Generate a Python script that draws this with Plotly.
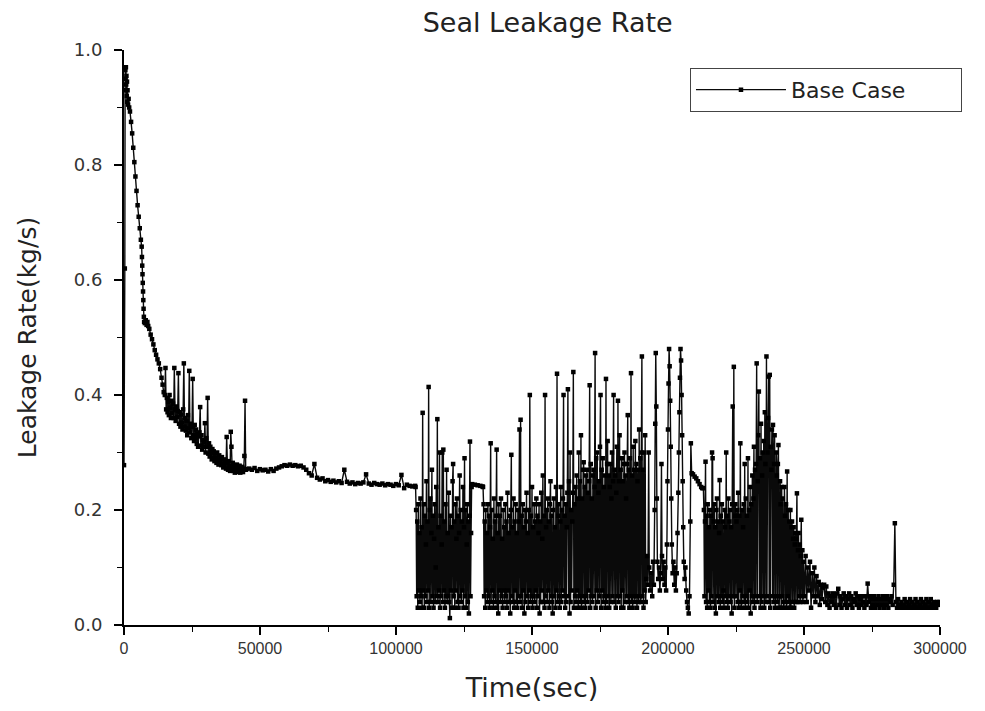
import plotly.graph_objects as go

# ---- data ----
# early part: explicit (time, value) pairs
early_t = [0, 300, 400, 500, 600, 700, 800, 900, 1000, 1100, 1200, 1300, 1500, 1700, 1900,
           2200, 2600, 3000, 3400, 3800, 4200, 4600, 5000, 5400, 5800, 6200, 6500, 6600,
           6700, 6800, 6900, 7000, 7100, 7200, 7300, 7400, 7700, 8000, 8300, 8600, 8900,
           9300, 9800, 10300, 10800, 11300, 11800, 12300, 12800, 13300, 13800, 14200, 14600]
early_v = [0.278, 0.62, 0.93, 0.965, 0.95, 0.97, 0.94, 0.955, 0.92, 0.945, 0.91, 0.93, 0.905,
           0.915, 0.90, 0.893, 0.875, 0.855, 0.83, 0.805, 0.78, 0.755, 0.73, 0.71, 0.69, 0.67,
           0.658, 0.64, 0.625, 0.61, 0.595, 0.58, 0.565, 0.55, 0.536, 0.527, 0.525, 0.53,
           0.522, 0.527, 0.52, 0.515, 0.505, 0.497, 0.488, 0.478, 0.47, 0.462, 0.455, 0.445,
           0.43, 0.418, 0.405]

# descending band, sampled every 250 s from 15000 s
band_start, band_step = 15000, 250
band_v = [0.40, 0.447, 0.375, 0.395, 0.37, 0.388, 0.365, 0.40, 0.378, 0.36,
          0.39, 0.368, 0.385, 0.36, 0.447, 0.375, 0.355, 0.38, 0.362, 0.372,
          0.438, 0.35, 0.37, 0.345, 0.366, 0.352, 0.34, 0.375, 0.455, 0.345,
          0.36, 0.338, 0.355, 0.33, 0.365, 0.342, 0.442, 0.335, 0.35, 0.325,
          0.345, 0.428, 0.33, 0.32, 0.348, 0.325, 0.34, 0.315, 0.333, 0.31,
          0.328, 0.335, 0.379, 0.312, 0.33, 0.305, 0.322, 0.31, 0.318, 0.351,
          0.30, 0.325, 0.31, 0.395, 0.298, 0.316, 0.293, 0.31, 0.30, 0.288,
          0.306, 0.29, 0.302, 0.285, 0.298, 0.29, 0.282, 0.30, 0.287, 0.279,
          0.295, 0.283, 0.29, 0.278, 0.292, 0.28, 0.274, 0.288, 0.277, 0.285,
          0.272, 0.327, 0.282, 0.27, 0.285, 0.276, 0.268, 0.336, 0.31, 0.275,
          0.282, 0.268, 0.278, 0.265, 0.276, 0.27, 0.279, 0.266, 0.274, 0.269,
          0.277, 0.265, 0.273, 0.268, 0.275, 0.266, 0.272, 0.294, 0.39, 0.27,
          0.271]

# plateau, sampled every 1000 s from 46000 s
flat_start, flat_step = 46000, 1000
flat_v = [0.272, 0.27, 0.273, 0.268, 0.271, 0.269, 0.27, 0.267, 0.271, 0.268,
          0.272, 0.274, 0.276, 0.278, 0.277, 0.279, 0.277, 0.278, 0.276, 0.277,
          0.274, 0.27, 0.264, 0.26, 0.28, 0.256, 0.253, 0.255, 0.25, 0.252,
          0.249, 0.251, 0.248, 0.25, 0.247, 0.27, 0.249, 0.246, 0.248, 0.245,
          0.247, 0.246, 0.248, 0.262, 0.246, 0.244, 0.247, 0.245, 0.244, 0.246,
          0.243, 0.245, 0.244, 0.242, 0.245, 0.243, 0.261, 0.238, 0.244, 0.242, 0.241]

# first oscillating zone, every 200 s from 107000 s
osc1_start, osc1_step = 107000, 200
osc1_v = [0.242, 0.24, 0.20, 0.05, 0.18, 0.03, 0.21, 0.06, 0.16, 0.04,
          0.22, 0.05, 0.17, 0.03, 0.369, 0.06, 0.21, 0.03, 0.19, 0.05,
          0.14, 0.25, 0.04, 0.18, 0.06, 0.414, 0.03, 0.20, 0.22, 0.04,
          0.16, 0.27, 0.05, 0.19, 0.03, 0.15, 0.21, 0.04, 0.10, 0.24,
          0.05, 0.358, 0.04, 0.17, 0.06, 0.30, 0.03, 0.19, 0.05, 0.14,
          0.30, 0.04, 0.305, 0.06, 0.18, 0.03, 0.21, 0.05, 0.27, 0.04,
          0.16, 0.05, 0.23, 0.04, 0.012, 0.19, 0.06, 0.17, 0.03, 0.25,
          0.28, 0.05, 0.18, 0.03, 0.21, 0.06, 0.15, 0.22, 0.04, 0.19,
          0.03, 0.16, 0.26, 0.05, 0.20, 0.04, 0.18, 0.06, 0.24, 0.03,
          0.17, 0.29, 0.05, 0.20, 0.03, 0.14, 0.21, 0.04, 0.18, 0.02,
          0.19, 0.319, 0.05, 0.16, 0.24, 0.245]

# short steady piece
gap1_t = [129000, 130000, 131000, 131800]
gap1_v = [0.244, 0.243, 0.242, 0.241]

# second oscillating zone, every 200 s from 132000 s
osc2_start, osc2_step = 132000, 200
osc2_v = [0.24, 0.21, 0.05, 0.18, 0.03, 0.20, 0.06, 0.16, 0.04, 0.21,
          0.05, 0.19, 0.03, 0.17, 0.316, 0.04, 0.20, 0.06, 0.15, 0.03,
          0.22, 0.05, 0.18, 0.04, 0.19, 0.305, 0.03, 0.16, 0.02, 0.21,
          0.06, 0.19, 0.04, 0.22, 0.05, 0.15, 0.03, 0.20, 0.06, 0.17,
          0.04, 0.21, 0.05, 0.18, 0.03, 0.23, 0.06, 0.16, 0.04, 0.19,
          0.02, 0.20, 0.296, 0.05, 0.17, 0.04, 0.22, 0.03, 0.18, 0.06,
          0.21, 0.04, 0.16, 0.03, 0.20, 0.05, 0.18, 0.34, 0.04, 0.357,
          0.05, 0.19, 0.03, 0.21, 0.06, 0.17, 0.02, 0.20, 0.04, 0.18,
          0.23, 0.05, 0.16, 0.03, 0.20, 0.06, 0.40, 0.04, 0.19, 0.05,
          0.24, 0.03, 0.17, 0.05, 0.21, 0.04, 0.18, 0.06, 0.22, 0.03,
          0.19, 0.05, 0.16, 0.21, 0.02, 0.18, 0.04, 0.23, 0.06, 0.15,
          0.26, 0.04, 0.19, 0.03, 0.40, 0.05, 0.17, 0.20, 0.04, 0.22,
          0.06, 0.18, 0.03, 0.21, 0.25, 0.05, 0.19, 0.04, 0.02, 0.20,
          0.22, 0.05, 0.17, 0.03, 0.24, 0.06, 0.437, 0.04, 0.19, 0.21,
          0.05, 0.03, 0.18, 0.24, 0.04, 0.20, 0.06, 0.22, 0.40, 0.05,
          0.19, 0.03, 0.21, 0.04, 0.17, 0.23, 0.41, 0.05, 0.25, 0.02,
          0.30, 0.04, 0.20, 0.06, 0.18, 0.23, 0.44, 0.03, 0.21, 0.05,
          0.24, 0.04, 0.26, 0.06, 0.22, 0.03, 0.30, 0.05, 0.25, 0.04,
          0.33, 0.03, 0.22, 0.05, 0.27, 0.283, 0.04, 0.24, 0.03, 0.26,
          0.05, 0.27, 0.04, 0.23, 0.06, 0.25, 0.417, 0.03, 0.28, 0.05,
          0.22, 0.04, 0.26, 0.27, 0.05, 0.24, 0.473, 0.03, 0.29, 0.06,
          0.30, 0.04, 0.23, 0.25, 0.05, 0.31, 0.40, 0.03, 0.27, 0.06,
          0.29, 0.04, 0.24, 0.05, 0.26, 0.03, 0.428, 0.04, 0.28, 0.32,
          0.05, 0.26, 0.03, 0.24, 0.28, 0.04, 0.22, 0.30, 0.05, 0.25,
          0.40, 0.04, 0.27, 0.26, 0.03, 0.23, 0.31, 0.05, 0.39, 0.04,
          0.25, 0.33, 0.05, 0.27, 0.03, 0.29, 0.06, 0.25, 0.03, 0.28,
          0.30, 0.04, 0.26, 0.22, 0.05, 0.28, 0.365, 0.04, 0.27, 0.03,
          0.29, 0.05, 0.438, 0.04, 0.26, 0.03, 0.31, 0.05, 0.27, 0.04,
          0.32, 0.05, 0.28, 0.03, 0.25, 0.27, 0.04, 0.34, 0.05, 0.29,
          0.04, 0.30, 0.467, 0.05, 0.27, 0.03, 0.30, 0.06, 0.33, 0.04]

# sparse zone with tall excursions (irregular times)
sparse_t = [192000, 192300, 192600, 192900, 193100, 193400, 193800, 194200, 194500, 194800,
            195100, 195300, 195500, 195700, 195900, 196100, 196400, 196700, 197000, 197300,
            197600, 197800, 198100, 198400, 198700, 199000, 199300, 199600, 199800, 200000,
            200200, 200400, 200600, 200800, 201000, 201200, 201400, 201700, 202000, 202300,
            202600, 202900, 203200, 203500, 203800, 204000, 204200, 204400, 204600, 204800,
            205000, 205200, 205400, 205600, 205800, 206100, 206400, 206700, 207000, 207300,
            207600, 207900, 208200, 208400]
sparse_v = [0.08, 0.12, 0.07, 0.30, 0.10, 0.06, 0.09, 0.05, 0.11, 0.07,
            0.20, 0.35, 0.473, 0.38, 0.22, 0.11, 0.08, 0.10, 0.06, 0.09,
            0.28, 0.12, 0.08, 0.11, 0.07, 0.10, 0.06, 0.14, 0.25, 0.34,
            0.42, 0.48, 0.45, 0.39, 0.31, 0.22, 0.14, 0.09, 0.11, 0.07,
            0.10, 0.06, 0.09, 0.16, 0.23, 0.30, 0.37, 0.43, 0.48, 0.46,
            0.40, 0.33, 0.25, 0.17, 0.11, 0.08, 0.10, 0.06, 0.04, 0.03,
            0.02, 0.05, 0.18, 0.316]

# short steady piece
gap2_t = [208700, 209200, 209800, 210400, 211000, 211600, 212200, 212600]
gap2_v = [0.264, 0.262, 0.258, 0.255, 0.25, 0.245, 0.24, 0.238]

# third oscillating zone, every 200 s from 213000 s
osc3_start, osc3_step = 213000, 200
osc3_v = [0.238, 0.20, 0.05, 0.18, 0.284, 0.04, 0.19, 0.03, 0.21, 0.06,
          0.17, 0.04, 0.20, 0.03, 0.19, 0.05, 0.30, 0.29, 0.04, 0.18,
          0.21, 0.03, 0.17, 0.02, 0.20, 0.22, 0.05, 0.18, 0.04, 0.16,
          0.252, 0.03, 0.19, 0.05, 0.21, 0.04, 0.18, 0.06, 0.03, 0.20,
          0.17, 0.05, 0.30, 0.04, 0.19, 0.03, 0.22, 0.05, 0.18, 0.20,
          0.04, 0.17, 0.02, 0.21, 0.38, 0.05, 0.449, 0.03, 0.19, 0.21,
          0.05, 0.18, 0.20, 0.04, 0.23, 0.03, 0.19, 0.06, 0.316, 0.04,
          0.03, 0.20, 0.05, 0.17, 0.21, 0.04, 0.28, 0.03, 0.22, 0.05,
          0.19, 0.04, 0.29, 0.03, 0.20, 0.06, 0.24, 0.02, 0.21, 0.05,
          0.26, 0.04, 0.22, 0.31, 0.03, 0.27, 0.05, 0.28, 0.455, 0.04,
          0.25, 0.33, 0.406, 0.05, 0.29, 0.03, 0.35, 0.04, 0.26, 0.30,
          0.05, 0.32, 0.03, 0.37, 0.28, 0.04, 0.467, 0.05, 0.30, 0.36,
          0.432, 0.04, 0.435, 0.03, 0.31, 0.27, 0.34, 0.05, 0.348, 0.04,
          0.28, 0.33, 0.03, 0.05, 0.30, 0.26, 0.04, 0.28, 0.313, 0.03,
          0.05, 0.25, 0.21, 0.03, 0.24, 0.05, 0.22, 0.04, 0.03, 0.24,
          0.19, 0.04, 0.21, 0.03, 0.267, 0.05, 0.20, 0.04, 0.18, 0.03,
          0.20, 0.03, 0.17, 0.18, 0.04, 0.15, 0.17, 0.03, 0.14, 0.16,
          0.04, 0.15, 0.229, 0.04, 0.13, 0.16, 0.05, 0.14, 0.04, 0.12,
          0.183, 0.05, 0.13, 0.04, 0.11]

# tail, every 400 s from 250200 s
tail_start, tail_step = 250200, 400
tail_v = [0.05, 0.12, 0.04, 0.10, 0.06, 0.11, 0.03, 0.09, 0.05, 0.10,
          0.04, 0.085, 0.05, 0.075, 0.035, 0.07, 0.045, 0.065, 0.07, 0.04,
          0.067, 0.035, 0.055, 0.03, 0.05, 0.04, 0.055, 0.035, 0.05, 0.03,
          0.055, 0.063, 0.035, 0.05, 0.03, 0.045, 0.055, 0.035, 0.05, 0.03,
          0.045, 0.055, 0.035, 0.05, 0.03, 0.045, 0.04, 0.055, 0.035, 0.05,
          0.03, 0.045, 0.035, 0.05, 0.04, 0.03, 0.05, 0.035, 0.072, 0.04,
          0.05, 0.03, 0.045, 0.035, 0.05, 0.03, 0.045, 0.035, 0.05, 0.03,
          0.045, 0.035, 0.05, 0.03, 0.045, 0.035, 0.05, 0.03, 0.045, 0.04,
          0.05, 0.035, 0.07, 0.177, 0.04, 0.03, 0.045, 0.035, 0.03, 0.04,
          0.03, 0.035, 0.045, 0.03, 0.04, 0.03, 0.035, 0.045, 0.03, 0.04,
          0.03, 0.035, 0.045, 0.03, 0.04, 0.03, 0.035, 0.045, 0.03, 0.04,
          0.03, 0.035, 0.045, 0.03, 0.04, 0.03, 0.045, 0.035, 0.03, 0.04,
          0.035, 0.03, 0.04, 0.035, 0.04]

x_ticks = [0, 50000, 100000, 150000, 200000, 250000, 300000]
y_ticks = [0.0, 0.2, 0.4, 0.6, 0.8, 1.0]
y_tick_text = ["0.0", "0.2", "0.4", "0.6", "0.8", "1.0"]


def grid(start, step, vals):
    return [start + step * i for i in range(len(vals))]


time = (early_t + grid(band_start, band_step, band_v) + grid(flat_start, flat_step, flat_v)
        + grid(osc1_start, osc1_step, osc1_v) + gap1_t + grid(osc2_start, osc2_step, osc2_v)
        + sparse_t + gap2_t + grid(osc3_start, osc3_step, osc3_v)
        + grid(tail_start, tail_step, tail_v))
rate = (early_v + band_v + flat_v + osc1_v + gap1_v + osc2_v + sparse_v + gap2_v
        + osc3_v + tail_v)

fig = go.Figure()
fig.add_trace(go.Scatter(
    x=time, y=rate, mode="lines+markers", name="Base Case",
    line=dict(color="#0a0a0a", width=1.4, simplify=False),
    marker=dict(symbol="square", size=4.5, color="#000000", line=dict(width=0)),
))

wide = "DejaVu Sans, Verdana, sans-serif"
plain = "Liberation Sans, Arial, sans-serif"

fig.update_layout(
    width=985, height=711,
    margin=dict(l=124, r=45, t=50, b=86),
    paper_bgcolor="white", plot_bgcolor="white",
    title=dict(text="Seal Leakage Rate", x=0.556, xanchor="center", y=0.968, yanchor="middle",
               font=dict(family=wide, size=27, color="#222222")),
    showlegend=True,
    legend=dict(x=0.6936, y=0.969, xanchor="left", yanchor="top",
                orientation="h", entrywidth=165, entrywidthmode="pixels",
                bordercolor="#444444", borderwidth=1, bgcolor="white",
                font=dict(family=wide, size=22, color="#222222"),
                itemwidth=90),
    font=dict(family=wide, color="#222222"),
)

fig.update_xaxes(
    range=[0, 300000], tickvals=x_ticks, ticktext=[str(v) for v in x_ticks],
    ticks="outside", ticklen=8, tickwidth=1.5, tickcolor="#000000",
    showline=True, linecolor="#000000", linewidth=2, showgrid=False, zeroline=False,
    minor=dict(ticks="outside", ticklen=5, tickwidth=1.2, tickcolor="#000000", dtick=25000,
               tick0=0, showgrid=False),
    tickfont=dict(family=plain, size=16, color="#333333"),
    title=dict(text="Time(sec)", font=dict(family=wide, size=27, color="#222222"),
               standoff=22),
)
fig.update_yaxes(
    range=[0, 1.0], tickvals=y_ticks, ticktext=y_tick_text,
    ticks="outside", ticklen=8, tickwidth=1.5, tickcolor="#000000",
    showline=True, linecolor="#000000", linewidth=2, showgrid=False, zeroline=False,
    minor=dict(ticks="outside", ticklen=5, tickwidth=1.2, tickcolor="#000000", dtick=0.1,
               tick0=0, showgrid=False),
    tickfont=dict(family=wide, size=18, color="#333333"),
    ticklabelstandoff=8,
    title=dict(text="Leakage Rate(kg/s)", font=dict(family=wide, size=25, color="#222222"),
               standoff=30),
)

fig.write_html("out.html")
